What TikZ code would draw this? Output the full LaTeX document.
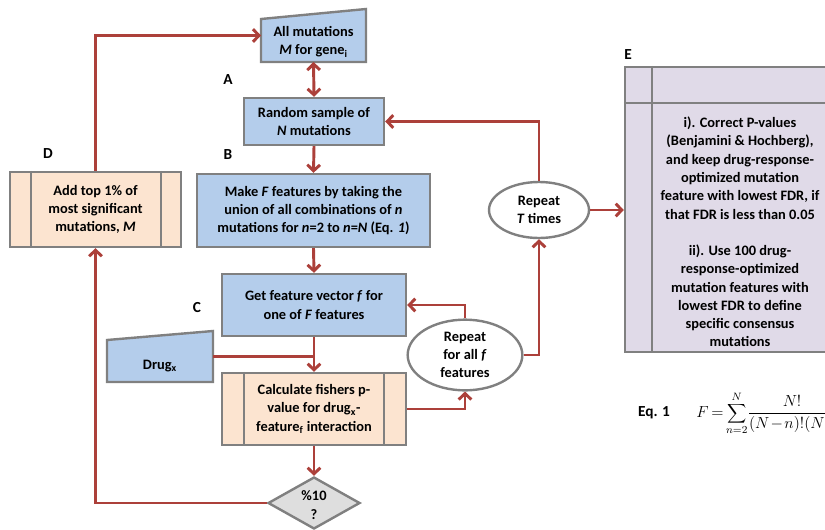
\documentclass[tikz,border=0pt]{standalone}
\usepackage{fontspec}
\setmainfont{Carlito}
\usetikzlibrary{arrows.meta,shapes.geometric,calc}
\definecolor{lnred}{RGB}{172,64,58}
\definecolor{bgray}{RGB}{128,128,128}
\definecolor{boxblue}{RGB}{180,205,235}
\definecolor{peach}{RGB}{252,228,208}
\definecolor{lav}{RGB}{224,218,232}
\definecolor{dgray}{RGB}{222,222,222}
\begin{document}
\begin{tikzpicture}[x=0.75pt,y=-0.75pt,
  font=\bfseries\fontsize{10.8}{13.7}\selectfont,
  box/.style={draw=bgray, line width=1.8pt, inner sep=0pt, align=center},
  bluebox/.style={box, fill=boxblue},
  peachbox/.style={box, fill=peach},
  anchorbox/.style={inner sep=0pt, outer sep=0pt},
  txt/.style={align=center, inner sep=0pt},
  oval/.style={box, ellipse, fill=white},
  ln/.style={draw=lnred, line width=2.2pt},
  arr/.style={ln, -{Straight Barb[length=4.5pt,width=9.5pt]}},
  darr/.style={ln, {Straight Barb[length=4.5pt,width=9.5pt]}-{Straight Barb[length=4.5pt,width=9.5pt]}},
  inner/.style={draw=bgray, line width=1.8pt},
  lbl/.style={font=\bfseries\fontsize{11.5}{13}\selectfont, inner sep=0pt}]
\useasboundingbox (0,0) rectangle (825,529);
\clip (0,0) rectangle (825,529);

% trapezoid input shapes
\draw[draw=bgray, line width=1.8pt, fill=boxblue] (261,19) -- (366,9) -- (366,62) -- (261,62) -- cycle;
\node[anchorbox, minimum width=78.75pt, minimum height=39.75pt] (allm) at (313.5,35.5) {};
\node[txt] at (313.5,42) {All mutations\\\textit{M} for gene\textsubscript{i}};

\draw[draw=bgray, line width=1.8pt, fill=boxblue] (107,340) -- (213,331) -- (213,382) -- (107,382) -- cycle;
\node[anchorbox, minimum width=79.5pt, minimum height=38.25pt] (drug) at (160,356.5) {};
\node[txt] at (160,366) {Drug\textsubscript{x}};

% process boxes
\node[bluebox, minimum width=105pt, minimum height=35.25pt] (rs) at (314,121.5) {Random sample of\\\textit{N} mutations};
\node[bluebox, minimum width=174.75pt, minimum height=54.75pt] (mf) at (313.5,210.5) {Make \textit{F} features by taking the\\union of all combinations of \textit{n}\\mutations for \textit{n}=2 to \textit{n}=\textit{N} (Eq. \textit{1})};
\node[bluebox, minimum width=138pt, minimum height=46.5pt] (gf) at (314,305) {Get feature vector \textit{f} for\\one of \textit{F} features};

\node[peachbox, minimum width=138pt, minimum height=54pt] (calc) at (314,409) {Calculate fishers p-\\value for drug\textsubscript{x}-\\feature\textsubscript{f} interaction};
\draw[inner] ($(calc.north west)+(23,0)$) -- ($(calc.south west)+(23,0)$);
\draw[inner] ($(calc.north east)+(-23,0)$) -- ($(calc.south east)+(-23,0)$);

\node[peachbox, minimum width=128.25pt, minimum height=56.25pt] (dbox) at (95.5,209.5) {Add top 1\% of\\most significant\\mutations, \textit{M}};
\draw[inner] ($(dbox.north west)+(22,0)$) -- ($(dbox.south west)+(22,0)$);
\draw[inner] ($(dbox.north east)+(-21,0)$) -- ($(dbox.south east)+(-21,0)$);

% decision
\node[box, diamond, fill=dgray, minimum width=69pt, minimum height=39pt] (dia) at (314,503) {};
\node[txt] at (314,505) {\%10\\?};

% loops
\node[oval, minimum width=86pt, minimum height=53pt] (rfa) at (465,355) {Repeat\\for all \textit{f}\\features};
\node[oval, minimum width=75pt, minimum height=42pt] (rtt) at (539,210) {Repeat\\\textit{T} times};

% E box
\node[box, fill=lav, minimum width=172.5pt, minimum height=213.75pt] (ebox) at (740,209.5) {};
\draw[inner] (ebox.west |- 0,103) -- (ebox.east |- 0,103);
\draw[inner] (652,0 |- ebox.north) -- (652,0 |- ebox.south);
\node[txt] at (740,232) {i). Correct P-values\\(Benjamini \& Hochberg),\\and keep drug-response-\\optimized mutation\\feature with lowest FDR, if\\that FDR is less than 0.05\\[13.7pt]ii). Use 100 drug-\\response-optimized\\mutation features with\\lowest FDR to define\\specific consensus\\mutations};

% labels
\node[lbl] (la) at (228,80) {A};
\node[lbl] (lb) at (228,155) {B};
\node[lbl] (lc) at (197,308) {C};
\node[lbl] (ld) at (48,154) {D};
\node[lbl] (le) at (628,55) {E};

% equation
\node[lbl] (eqlbl) at (654,413) {Eq. 1};
\node[anchor=west, inner sep=0pt, font=\normalfont\fontsize{11.5}{14}\selectfont] (eq) at (696,413) {\medmuskip=1.5mu\thickmuskip=3mu$F=\displaystyle\sum_{n=2}^{N}\!\frac{N!}{(N-n)!(N!)}$};

% connectors
\draw[arr] (dbox.north) |- (allm.west);
\draw[darr] (allm.south) -- (rs.north);
\draw[arr] (rs.south) -- (mf.north);
\draw[arr] (mf.south) -- (gf.north);
\draw[arr] (gf.south) -- (calc.north);
\draw[ln] (drug.east) -- (drug.east -| gf.south);
\draw[arr] (calc.east) -| (rfa.south);
\draw[arr] (rfa.north) |- (gf.east);
\draw[arr] (rfa.east) -| (rtt.south);
\draw[arr] (rtt.north) |- (rs.east);
\draw[arr] (rtt.east) -- (rtt.east -| ebox.west);
\draw[arr] (calc.south) -- (dia.north);
\draw[arr] (dia.west) -| (dbox.south);
\end{tikzpicture}
\end{document}
